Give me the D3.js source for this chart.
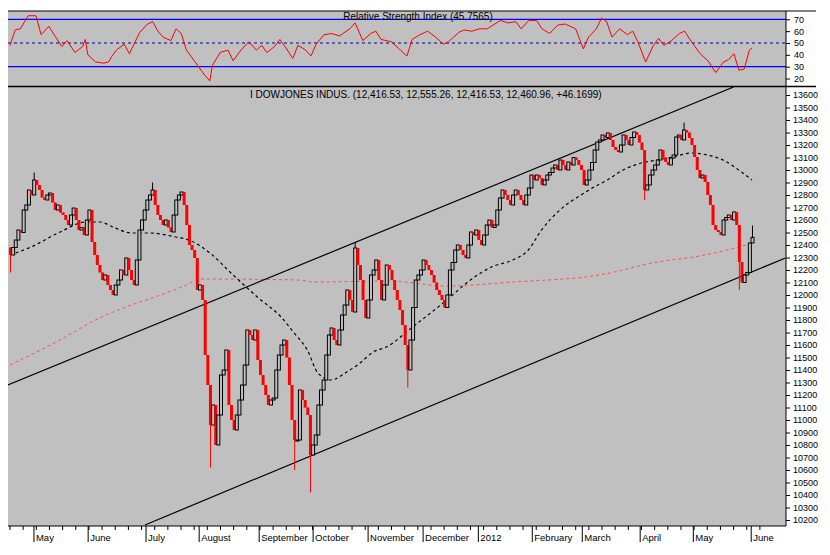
<!DOCTYPE html>
<html><head><meta charset="utf-8">
<script src="https://cdn.jsdelivr.net/npm/d3@7"></script>
<style>body{margin:0;background:#fff}svg{display:block}text{font-family:"Liberation Sans Narrow","Liberation Sans",Arial,sans-serif}</style>
</head><body><svg id="c" width="830" height="555"></svg>
<script>
// ---- data ----
const firstOpen = 12380;
const closes = [12320,12380,12440,12520,12500,12680,12720,12840,12800,12920,
12880,12840,12780,12760,12800,12816,12740,12680,12720,12660,
12640,12600,12560,12640,12696,12600,12520,12540,12480,12600,
12680,12424,12320,12240,12180,12120,12160,12080,12040,12000,
12080,12120,12200,12160,12296,12200,12120,12080,12280,12520,
12600,12680,12760,12800,12840,12720,12640,12600,12560,12600,
12540,12504,12640,12760,12800,12824,12720,12560,12400,12360,
12296,12040,12080,11960,11520,11280,10960,11120,10800,11040,
11360,11400,11560,11120,11000,10920,11040,11160,11280,11440,
11720,11680,11640,11720,11480,11360,11280,11200,11120,11160,
11176,11400,11520,11600,11640,11500,11280,11000,10840,10840,
11240,11160,11100,11040,10720,10800,10880,11120,11240,11320,
11520,11680,11736,11640,11600,11720,11840,11920,12040,11960,
11864,12376,12240,12120,11960,11816,11960,12160,12200,12280,
12120,11960,12080,12240,12200,12120,12040,11960,11880,11760,
11600,11400,11640,11900,12120,12160,12200,12280,12240,12200,
12160,12100,12040,12000,11960,11900,12000,12200,12260,12360,
12400,12360,12320,12296,12400,12504,12480,12520,12440,12400,
12480,12560,12600,12540,12560,12680,12776,12840,12800,12760,
12720,12800,12840,12800,12760,12720,12800,12856,12960,12920,
12960,12936,12880,12920,12960,12980,13016,13040,13000,13080,
13040,13000,13064,13040,13100,13080,13040,13000,12880,12920,
13000,13060,13160,13224,13240,13280,13260,13296,13240,13184,
13160,13144,13200,13280,13240,13200,13260,13304,13280,13220,
13160,12840,12880,12960,13000,13040,13080,13160,13100,13064,
13040,13096,13120,13264,13280,13240,13320,13300,13256,13200,
13104,13000,12936,12960,12904,12800,12720,12560,12520,12504,
12480,12600,12620,12640,12600,12664,12560,12264,12100,12160,
12180,12416,12460.96];
// notable long wicks: [index, low]
const wickLows = [[0,12180],[76,10620],[108,10600],[114,10420],[151,11260],[241,12760],[277,12040]];
const wickHighs = [[9,12980],[54,12900],[131,12420],[256,13380],[282,12555.26]];
// moving averages [index, value]
const ma50 = [[0,12320],[8,12384],[19,12504],[29,12584],[34,12584],[40,12536],[46,12496],[53,12496],[63,12464],[68,12440],[76,12336],[84,12176],[94,11984],[103,11824],[108,11696],[113,11560],[117,11376],[122,11320],[128,11384],[133,11456],[138,11544],[143,11584],[153,11744],[166,11960],[175,12120],[183,12224],[191,12280],[197,12360],[202,12520],[209,12680],[217,12800],[222,12864],[227,12920],[233,13000],[240,13056],[246,13080],[252,13104],[259,13136],[265,13120],[271,13080],[278,12984],[282,12920]];
const ma200 = [[0,11440],[19,11640],[34,11816],[44,11904],[55,11984],[67,12080],[72,12128],[110,12120],[115,12104],[144,12112],[166,12072],[191,12104],[224,12160],[246,12264],[262,12312],[280,12400]];
const upperChannel = [[-0.8,11280],[275,13664]];
const lowerChannel = [[51.3,10160],[294.7,12296]];
// RSI [index on 0..286 grid, value]
const rsi = [[0,48],[2,61],[4,62],[7,73],[10,73],[12,57],[15,64],[17,57],[20,47],[22,52],[25,42],[28,47],[29,53],[30,40],[33,34],[36,33],[38,34],[39,38],[41,44],[44,49],[46,41],[48,50],[50,59],[53,66],[55,68],[57,60],[59,55],[62,52],[64,62],[66,58],[68,44],[71,35],[75,23],[77,18],[78,31],[81,42],[84,44],[86,35],[89,44],[92,51],[95,44],[97,48],[99,42],[102,47],[104,53],[106,47],[109,37],[111,48],[114,44],[116,39],[118,49],[121,57],[124,58],[127,56],[131,62],[133,67],[136,52],[139,58],[141,60],[143,53],[147,51],[150,45],[153,39],[155,53],[158,57],[161,60],[164,55],[167,49],[169,51],[171,55],[173,59],[175,61],[178,60],[181,62],[184,62],[189,69],[192,67],[195,68],[197,62],[200,69],[203,69],[205,62],[208,58],[211,65],[214,66],[218,62],[221,45],[223,55],[226,62],[228,71],[230,68],[232,55],[235,62],[238,57],[240,60],[242,51],[245,34],[248,48],[250,54],[252,48],[255,52],[258,58],[260,60],[263,50],[266,41],[269,35],[272,25],[275,34],[277,36],[279,41],[281,27],[283,28],[285,44],[286,45.8]];
const rsiLevels = [70,50,30];
const rsiTicks = [20,30,40,50,60,70];
const priceTicks = d3.range(10200,13601,100);
const months = ["May","June","July","August","September","October","November","December","2012","February","March","April","May","June"];
const monthIdx = [9.1,29.7,51.7,71.9,94.7,115.2,136.1,157,178,198.5,217.5,239.5,259.7,281.7];

// ---- layout ----
const svg = d3.select("#c");
const L=8, R=786, mTop=87, mBot=526, rTop=11, rBot=86;
const x = d3.scaleLinear().domain([0,282]).range([10,752]);
const xr = d3.scaleLinear().domain([0,286]).range([10,752]);
const y = d3.scaleLinear().domain([10152,13664]).range([mBot,mTop]);
const yr = d3.scaleLinear().domain([13.7,77]).range([rBot,rTop]);

svg.append("rect").attr("x",L).attr("y",rTop).attr("width",R-L).attr("height",rBot-rTop).attr("fill","#c0c0c0");
svg.append("rect").attr("x",L).attr("y",mTop).attr("width",R-L).attr("height",mBot-mTop).attr("fill","#c0c0c0");
const defs = svg.append("defs");
defs.append("clipPath").attr("id","mc").append("rect").attr("x",L).attr("y",mTop).attr("width",R-L).attr("height",mBot-mTop);

// RSI panel
rsiLevels.forEach(v=>{
  svg.append("line").attr("x1",L).attr("x2",R).attr("y1",yr(v)).attr("y2",yr(v))
   .attr("stroke",v===50?"#00008b":"#0000ff").attr("stroke-width",v===50?1.2:1.2)
   .attr("stroke-dasharray",v===50?"3,3":null);
});
svg.append("path").datum(rsi).attr("fill","none").attr("stroke","#ff0000").attr("stroke-width",1)
  .attr("d",d3.line().x(d=>xr(d[0])).y(d=>yr(d[1])));
svg.append("text").attr("x",418).attr("y",20).attr("text-anchor","middle").attr("font-size",10).attr("fill","#000")
  .text("Relative Strength Index (45.7565)");
const ra = svg.append("g").attr("transform",`translate(${R},0)`).call(d3.axisRight(yr).tickValues(rsiTicks).tickSize(4).tickPadding(4));
ra.select(".domain").remove();
ra.selectAll("text").attr("font-size",9).attr("font-family","Liberation Sans Narrow, Liberation Sans, sans-serif");

// main panel
const g = svg.append("g").attr("clip-path","url(#mc)");
const lineP = d3.line().x(d=>x(d[0])).y(d=>y(d[1]));
g.append("path").datum(ma200).attr("fill","none").attr("stroke","#ff5050").attr("stroke-width",1).attr("stroke-dasharray","3,3").attr("d",lineP.curve(d3.curveMonotoneX));
g.append("path").datum(ma50).attr("fill","none").attr("stroke","#000").attr("stroke-width",1.2).attr("stroke-dasharray","3,3").attr("d",d3.line().x(d=>x(d[0])).y(d=>y(d[1])).curve(d3.curveMonotoneX));
[upperChannel,lowerChannel].forEach(c=>g.append("path").datum(c).attr("fill","none").attr("stroke","#000").attr("stroke-width",1.2).attr("d",d3.line().x(d=>x(d[0])).y(d=>y(d[1]))));

const candles = closes.map((c,i)=>{
  const o = i===0?firstOpen:closes[i-1];
  let hi=Math.max(o,c), lo=Math.min(o,c);
  wickLows.forEach(w=>{if(w[0]===i) lo=Math.min(lo,w[1]);});
  wickHighs.forEach(w=>{if(w[0]===i) hi=Math.max(hi,w[1]);});
  if(i===closes.length-1){lo=12416.53;}
  return {i,o,c,hi,lo};
});
candles[candles.length-1].o = 12416.53;
const cg = g.append("g");
cg.selectAll("line").data(candles).join("line")
  .attr("x1",d=>x(d.i)+0.5).attr("x2",d=>x(d.i)+0.5).attr("y1",d=>y(d.hi)).attr("y2",d=>y(d.lo))
  .attr("stroke",d=>d.c>=d.o?"#000":"#ff0000").attr("stroke-width",1);
cg.selectAll("rect").data(candles).join("rect")
  .attr("x",d=>x(d.i)-1).attr("width",3)
  .attr("y",d=>y(Math.max(d.o,d.c))).attr("height",d=>Math.max(1,Math.abs(y(d.o)-y(d.c))))
  .attr("fill",d=>d.c>=d.o?"#c0c0c0":"#ff0000")
  .attr("stroke",d=>d.c>=d.o?"#000":"none").attr("stroke-width",1);

svg.append("text").attr("x",250).attr("y",98).attr("font-size",10).attr("fill","#000")
  .text("I DOWJONES INDUS. (12,416.53, 12,555.26, 12,416.53, 12,460.96, +46.1699)");

const pa = svg.append("g").attr("transform",`translate(${R},0)`).call(d3.axisRight(y).tickValues(priceTicks).tickSize(4).tickPadding(3).tickFormat(d3.format("d")));
pa.select(".domain").remove();
pa.selectAll("text").attr("font-size",9).attr("font-family","Liberation Sans Narrow, Liberation Sans, sans-serif");

// borders
svg.append("line").attr("x1",L).attr("x2",R+30).attr("y1",rTop).attr("y2",rTop).attr("stroke","#000");
svg.append("line").attr("x1",L).attr("x2",R+30).attr("y1",mTop-0.5).attr("y2",mTop-0.5).attr("stroke","#000").attr("stroke-width",1.5);
svg.append("line").attr("x1",R).attr("x2",R).attr("y1",rTop).attr("y2",mBot).attr("stroke","#000");
svg.append("line").attr("x1",L).attr("x2",R).attr("y1",mBot).attr("y2",mBot).attr("stroke","#000");

// bottom axis
const ba = svg.append("g");
const minor = d3.range(0,290,5);
ba.selectAll("line.mi").data(minor).join("line").attr("class","mi")
  .attr("x1",d=>x(d)).attr("x2",d=>x(d)).attr("y1",mBot).attr("y2",mBot+4).attr("stroke","#000");
ba.selectAll("line.mo").data(monthIdx).join("line").attr("class","mo")
  .attr("x1",d=>x(d)).attr("x2",d=>x(d)).attr("y1",mBot).attr("y2",mBot+16).attr("stroke","#000");
ba.selectAll("text").data(months).join("text")
  .attr("x",(d,i)=>x(monthIdx[i])+2).attr("y",mBot+15).attr("font-size",9.5).text(d=>d);
</script></body></html>
